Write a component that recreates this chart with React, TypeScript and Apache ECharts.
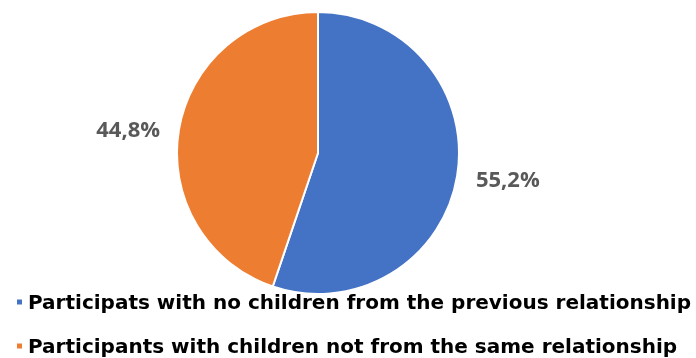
import React, { useEffect, useRef } from "react";
import * as echarts from "echarts";

const categories = [
  "Participats with no children from the previous relationship",
  "Participants with children not from the same relationship",
];
const values = [55.2, 44.8];
const colors = ["#4472C4", "#ED7D31"];

export default function App() {
  const ref = useRef<HTMLDivElement>(null);
  useEffect(() => {
    const chart = echarts.init(ref.current!, null, { renderer: "svg" });
    chart.setOption({
      animation: false,
      color: colors,
      legend: {
        orient: "vertical",
        left: 15,
        top: 292,
        padding: 0,
        itemWidth: 7,
        itemHeight: 7,
        itemGap: 24,
        icon: "rect",
        data: categories,
        textStyle: {
          fontFamily: "DejaVu Sans",
          fontWeight: "bold",
          fontSize: 20,
          color: "#000000",
          lineHeight: 20,
        },
      },
      series: [
        {
          type: "pie",
          center: [318, 153],
          radius: 141,
          startAngle: 90,
          clockwise: true,
          itemStyle: { borderColor: "#ffffff", borderWidth: 2 },
          label: {
            show: true,
            position: "outside",
            formatter: (p: any) => p.value.toFixed(1).replace(".", ",") + "%",
            fontFamily: "Open Sans",
            fontWeight: "bold",
            fontSize: 22,
            color: "#595959",
          },
          labelLine: { show: false, length: 14, length2: 0 },
          data: categories.map((c, i) => ({ name: c, value: values[i] })),
        },
      ],
    });
    return () => chart.dispose();
  }, []);
  return (
    <div
      ref={ref}
      style={{ position: "fixed", left: 0, top: 0, width: 696, height: 358 }}
    />
  );
}
